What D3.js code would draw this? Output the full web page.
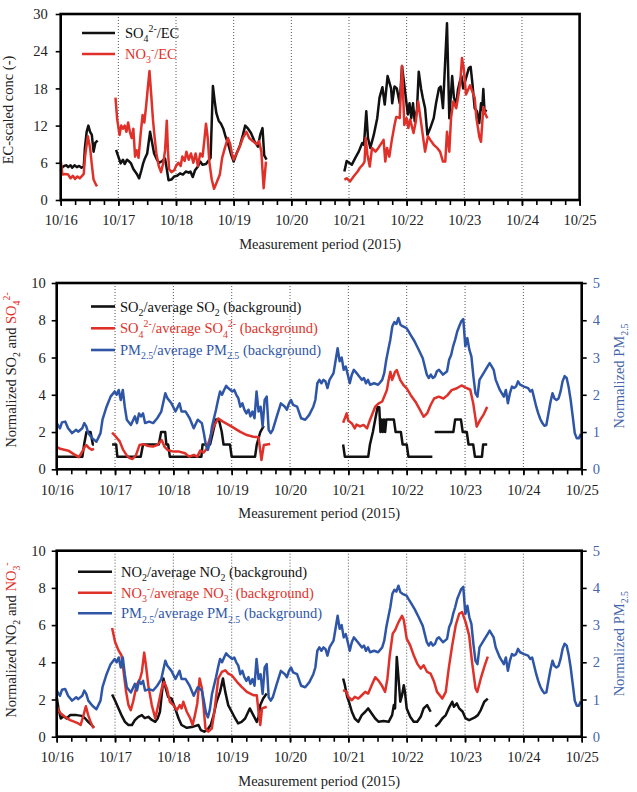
<!DOCTYPE html>
<html>
<head>
<meta charset="utf-8">
<script src="https://cdn.jsdelivr.net/npm/d3@7"></script>
<style>
  body { margin: 0; background: #fff; }
  text { font-family: "Liberation Serif", "Times New Roman", serif; }
</style>
</head>
<body>
<div id="chart"></div>
<script>
// tick labels on the time axis (day 0 = 10/16 00:00)
var dayLabels = ["10/16", "10/17", "10/18", "10/19", "10/20", "10/21", "10/22", "10/23", "10/24", "10/25"];
var ecTicks = [0, 6, 12, 18, 24, 30];
var normTicks = [0, 2, 4, 6, 8, 10];
var pmTicks = [0, 1, 2, 3, 4, 5];

// panel 1: EC-scaled ratios, [day, value], null = gap
var so4EcRatio = [
  [0,4.6],[0.03,5.3],[0.06,5.5],[0.1,5.6],[0.13,5.3],[0.17,5.6],[0.2,5.2],[0.24,5.6],[0.28,5.3],[0.32,5.5],[0.36,5.2],[0.4,5.4],[0.42,8.4],[0.45,11],[0.48,12],[0.51,11],[0.54,10.5],[0.57,7.8],[0.6,9.2],[0.64,9.6],
  null,
  [0.96,8.1],[1.0,7],[1.04,5.9],[1.08,6.5],[1.11,5.8],[1.15,6.5],[1.19,6.2],[1.22,5.9],[1.26,5],[1.29,4.6],[1.32,4.2],[1.36,3.5],[1.4,4.8],[1.43,5.9],[1.46,6.7],[1.5,7.5],[1.55,11],[1.58,9.5],[1.62,7.5],[1.67,6.5],[1.71,6],[1.76,6.3],[1.81,6.7],[1.84,5],[1.87,3.2],[1.92,3.3],[1.97,3.8],[2.02,3.9],[2.07,4.3],[2.12,4.1],[2.17,4.6],[2.22,4.4],[2.25,4.6],[2.29,3.7],[2.33,4.8],[2.38,5.4],[2.42,6.2],[2.46,5.7],[2.52,5.8],[2.6,6.8],[2.64,18.4],[2.67,16],[2.7,14],[2.74,12.8],[2.78,12.3],[2.82,11.5],[2.86,10.2],[2.9,9.2],[2.95,7.5],[3.0,6.2],[3.05,7.5],[3.11,8.8],[3.16,10.5],[3.2,12],[3.25,11.5],[3.3,10.8],[3.36,9.5],[3.42,8.6],[3.46,10.5],[3.5,11.6],[3.53,7.2],[3.57,6.5],
  null,
  [4.92,4.6],[4.96,6.3],[5.05,5.7],[5.11,6.8],[5.17,7.8],[5.23,9.2],[5.26,8.9],[5.3,14.3],[5.33,10],[5.37,8.4],[5.43,10.5],[5.49,13.2],[5.53,16.5],[5.58,18.2],[5.62,15.4],[5.67,20],[5.73,18],[5.75,15.6],[5.79,18.3],[5.83,18],[5.88,15.6],[5.92,21.6],[6.0,15.4],[6.02,13.8],[6.05,15.6],[6.08,13.2],[6.11,15.6],[6.14,12.7],[6.18,14.6],[6.21,20.7],[6.25,18],[6.28,16.5],[6.32,14.8],[6.36,10.5],[6.41,11.6],[6.47,13.2],[6.51,15.6],[6.56,18],[6.59,18.3],[6.63,14.8],[6.7,28.5],[6.74,13.2],[6.79,20],[6.82,16.5],[6.86,15.4],[6.89,17.8],[6.92,19],[6.95,20],[6.98,18],[7.08,21.3],[7.11,21.5],[7.14,18.9],[7.18,14.8],[7.22,14.3],[7.26,12.4],[7.29,15.6],[7.31,14.5],[7.33,17.9],[7.35,14.5],[7.39,14.3]
];
var no3EcRatio = [
  [0,6.4],[0.03,4.1],[0.08,4.2],[0.13,4.1],[0.17,3.5],[0.21,3.9],[0.25,3.4],[0.29,3.8],[0.33,3.5],[0.37,3.9],[0.4,4.2],[0.42,6.8],[0.47,10.3],[0.51,8.4],[0.54,5.7],[0.57,3.3],[0.61,2.5],[0.63,2.2],
  null,
  [0.95,16.5],[0.98,13],[1.02,10.5],[1.05,12],[1.08,11.5],[1.11,12],[1.14,11],[1.17,12.5],[1.2,11],[1.23,10],[1.26,11.5],[1.29,7],[1.32,8],[1.35,6.8],[1.39,11],[1.42,13.7],[1.45,12.5],[1.48,15],[1.51,18],[1.54,20.8],[1.57,17],[1.6,13],[1.63,10],[1.66,7.5],[1.7,5.5],[1.74,4.5],[1.78,6],[1.81,8],[1.84,12.8],[1.86,8],[1.88,5],[1.92,4.5],[1.97,4.8],[2.0,5.5],[2.04,6],[2.08,5.5],[2.11,7],[2.15,6.3],[2.18,7.8],[2.22,6.5],[2.26,7.5],[2.3,6],[2.34,7.5],[2.38,5.5],[2.42,7.5],[2.46,7],[2.49,9.5],[2.52,12.3],[2.55,10],[2.58,6],[2.62,3.3],[2.66,1.8],[2.7,2.7],[2.76,4.1],[2.8,6.8],[2.85,8.5],[2.9,10],[2.94,9],[2.97,7.5],[3.0,6.5],[3.05,7.5],[3.1,8.5],[3.16,10],[3.22,11],[3.27,10],[3.33,9.5],[3.4,9],[3.44,9.5],[3.48,7.8],[3.52,1.9],[3.56,6.2],
  null,
  [4.92,3.3],[4.96,3.5],[5.02,3.0],[5.08,3.8],[5.15,4.6],[5.19,5.2],[5.24,5.7],[5.27,6.2],[5.29,10],[5.32,7.3],[5.36,5.4],[5.4,8.4],[5.46,7.8],[5.51,8.4],[5.6,9.7],[5.63,6.2],[5.66,8.4],[5.7,7],[5.74,9.5],[5.79,12.1],[5.82,13.4],[5.88,13.2],[5.92,21.6],[5.96,12.1],[6.0,13.2],[6.03,11.6],[6.06,13],[6.12,10.8],[6.16,12.7],[6.2,15.9],[6.24,13.2],[6.28,10.5],[6.32,7.8],[6.37,10.3],[6.41,9.7],[6.47,8.9],[6.53,8.4],[6.58,7.8],[6.63,6.2],[6.67,6.2],[6.7,11],[6.74,7.8],[6.77,13.2],[6.81,15.9],[6.86,14.8],[6.9,17],[6.93,19],[6.96,22.9],[6.99,21.3],[7.03,17],[7.1,18.5],[7.14,17.5],[7.18,16.5],[7.21,13.2],[7.24,11.5],[7.26,10.2],[7.29,9.4],[7.33,15],[7.36,14],[7.4,13.2]
];

// panels 2 and 3: normalised to background, left axis
var so2Norm = [
  [0,0.67],[0.44,0.67],[0.47,1.33],[0.51,2.0],[0.58,2.0],[0.62,1.33],[0.64,1.33],
  null,
  [0.95,1.33],[1.02,1.33],[1.04,0.67],[1.44,0.67],[1.48,1.33],[1.75,1.33],[1.79,2.0],[1.86,2.0],[1.88,1.33],[1.91,1.33],[1.94,0.67],[2.48,0.67],[2.5,1.33],[2.63,1.33],[2.68,2.0],[2.73,2.67],[2.78,2.67],[2.83,2.0],[2.86,1.33],[2.97,1.33],[3.0,0.67],[3.4,0.67],[3.43,1.33],[3.49,2.0],[3.55,2.33],
  null,
  [4.91,1.33],[4.94,0.67],[5.34,0.67],[5.37,1.33],[5.42,2.0],[5.46,2.67],[5.5,3.33],[5.53,3.33],[5.55,2.0],[5.57,2.67],[5.59,2.0],[5.61,2.67],[5.63,2.0],[5.65,2.67],[5.78,2.67],[5.81,2.0],[5.9,2.0],[5.93,1.33],[6.0,1.33],[6.03,0.67],[6.44,0.67],
  null,
  [6.48,2.0],[6.8,2.0],[6.83,2.67],[6.93,2.67],[6.96,2.0],[7.03,2.0],[7.06,1.33],[7.14,1.33],[7.17,0.67],[7.29,0.67],[7.31,1.33],[7.38,1.33]
];
var so4Norm = [
  [0,1.2],[0.06,1.1],[0.2,1.0],[0.3,0.8],[0.38,0.65],[0.43,0.9],[0.48,1.2],[0.51,1.3],[0.55,1.15],[0.6,1.05],[0.64,1.1],
  null,
  [0.95,1.97],[1.0,1.8],[1.08,1.5],[1.14,1.04],[1.2,0.75],[1.25,0.6],[1.3,0.55],[1.36,0.77],[1.42,1.3],[1.48,1.35],[1.57,1.25],[1.65,1.22],[1.72,1.3],[1.8,1.57],[1.85,1.2],[1.9,1.04],[2.0,0.95],[2.1,0.95],[2.2,0.86],[2.27,0.68],[2.35,0.77],[2.41,0.68],[2.46,1.0],[2.52,0.9],[2.57,1.1],[2.62,1.6],[2.69,2.29],[2.77,2.73],[2.85,2.56],[3.0,2.29],[3.14,2.02],[3.26,1.84],[3.37,1.75],[3.46,1.72],[3.51,0.5],[3.55,1.3],[3.66,1.36],
  null,
  [4.91,2.5],[4.94,2.75],[4.97,3.0],[5.0,2.6],[5.06,2.46],[5.11,2.2],[5.14,2.4],[5.2,2.3],[5.26,2.38],[5.32,2.2],[5.37,2.65],[5.46,3.36],[5.52,3.54],[5.58,3.64],[5.66,4.25],[5.69,4.79],[5.72,5.23],[5.75,4.8],[5.78,5.05],[5.8,5.23],[5.83,5.32],[5.89,4.79],[5.95,4.5],[6.0,4.34],[6.07,3.98],[6.15,3.63],[6.23,3.18],[6.29,2.82],[6.35,3.0],[6.41,3.45],[6.47,3.8],[6.55,3.9],[6.63,3.8],[6.7,3.98],[6.77,4.25],[6.86,4.35],[6.94,4.5],[7.0,4.4],[7.09,4.27],[7.14,3.55],[7.2,2.29],[7.26,2.65],[7.32,2.95],[7.38,3.35]
];
var no2Norm = [
  [0,2.14],[0.03,1.52],[0.07,0.98],[0.12,1.1],[0.17,0.98],[0.23,1.16],[0.34,1.16],[0.43,1.12],[0.49,0.98],[0.54,0.8],[0.6,0.63],[0.64,0.48],
  null,
  [0.95,2.27],[1.0,1.95],[1.06,1.52],[1.11,1.16],[1.17,0.8],[1.23,0.63],[1.29,0.63],[1.34,0.89],[1.4,1.07],[1.46,1.16],[1.51,1.0],[1.57,1.07],[1.63,0.9],[1.69,0.8],[1.73,0.98],[1.77,1.34],[1.83,3.13],[1.87,2.6],[1.91,2.14],[1.97,2.05],[2.03,1.52],[2.09,0.98],[2.14,0.63],[2.23,0.48],[2.34,0.54],[2.43,0.63],[2.47,0.36],[2.53,0.27],[2.58,0.36],[2.64,0.63],[2.69,1.16],[2.74,1.88],[2.8,2.41],[2.85,3.13],[2.89,2.41],[2.94,1.7],[3.0,1.34],[3.06,0.98],[3.11,0.71],[3.17,0.8],[3.23,0.98],[3.31,1.52],[3.37,1.16],[3.43,0.8],[3.46,1.07],[3.49,1.7],[3.54,2.05],[3.6,2.32],
  null,
  [4.91,3.13],[4.94,2.77],[4.98,2.14],[5.01,1.88],[5.06,1.34],[5.11,0.98],[5.17,0.8],[5.23,1.16],[5.29,1.34],[5.34,1.52],[5.4,1.25],[5.46,0.98],[5.52,0.8],[5.6,0.84],[5.69,0.8],[5.75,1.16],[5.78,1.7],[5.8,1.52],[5.83,4.29],[5.86,3.13],[5.89,1.88],[5.92,2.23],[5.95,2.77],[5.97,2.41],[6.0,1.52],[6.06,1.07],[6.12,0.8],[6.18,0.8],[6.24,1.07],[6.29,1.52],[6.35,1.7],[6.41,1.34],
  null,
  [6.49,0.54],[6.55,0.71],[6.61,0.98],[6.67,1.16],[6.72,1.52],[6.78,1.88],[6.81,1.61],[6.86,1.79],[6.9,1.52],[6.96,1.34],[7.01,0.98],[7.07,0.89],[7.16,1.02],[7.22,1.16],[7.27,1.43],[7.33,1.88],[7.39,2.05]
];
var no3Norm = [
  [0,1.64],[0.03,1.43],[0.07,1.25],[0.14,1.07],[0.23,0.89],[0.31,0.8],[0.37,0.71],[0.41,0.63],[0.46,1.16],[0.5,1.64],[0.54,1.16],[0.58,0.8],[0.63,0.45],
  null,
  [0.95,5.84],[1.0,5.1],[1.06,4.64],[1.11,4.38],[1.14,3.66],[1.19,2.41],[1.23,1.7],[1.27,1.43],[1.31,1.88],[1.37,2.77],[1.43,3.13],[1.46,3.48],[1.5,4.52],[1.53,3.84],[1.57,2.77],[1.63,1.7],[1.69,0.98],[1.74,1.7],[1.8,2.59],[1.84,2.95],[1.89,2.59],[1.94,1.88],[2.0,1.7],[2.06,1.43],[2.11,1.7],[2.14,1.52],[2.17,1.88],[2.23,1.34],[2.29,0.98],[2.33,0.63],[2.37,1.16],[2.41,1.79],[2.45,3.13],[2.49,2.59],[2.52,1.52],[2.55,0.45],[2.6,0.27],[2.66,0.45],[2.71,1.52],[2.77,3.13],[2.83,3.48],[2.89,3.57],[2.94,3.39],[3.0,3.3],[3.09,2.95],[3.17,2.68],[3.26,2.41],[3.37,2.23],[3.43,2.23],[3.46,1.34],[3.49,0.63],[3.52,1.52],[3.6,1.61],
  null,
  [4.91,2.5],[4.97,2.41],[5.0,2.14],[5.06,1.96],[5.11,2.14],[5.17,2.05],[5.23,2.23],[5.29,2.41],[5.34,2.32],[5.4,2.77],[5.46,3.2],[5.52,3.0],[5.57,2.77],[5.63,2.41],[5.67,3.13],[5.71,4.38],[5.76,5.54],[5.8,5.72],[5.86,6.16],[5.92,6.5],[5.95,6.27],[6.0,5.27],[6.06,4.91],[6.12,4.38],[6.18,3.93],[6.24,3.66],[6.29,3.84],[6.35,3.48],[6.41,3.39],[6.47,2.95],[6.52,2.41],[6.61,2.05],[6.67,2.41],[6.72,3.66],[6.78,4.91],[6.84,5.98],[6.9,6.61],[6.95,6.7],[7.01,6.16],[7.07,5.45],[7.12,4.02],[7.18,2.59],[7.21,2.41],[7.27,3.13],[7.33,3.75],[7.39,4.3]
];
// PM2.5 normalised, right axis (0-5); same series in panels 2 and 3
var pmNorm = [
  [0,1.24],[0.056,1.1],[0.09,1.26],[0.146,1.28],[0.195,1.1],[0.264,0.97],[0.334,1.06],[0.368,1.01],[0.438,1.1],[0.473,1.24],[0.507,1.15],[0.542,0.97],[0.612,0.83],[0.681,0.74],[0.751,0.97],[0.785,1.33],[0.855,1.68],[0.924,1.95],[0.994,2.09],[1.028,2.0],[1.063,2.13],[1.098,1.86],[1.133,2.13],[1.167,1.68],[1.202,1.33],[1.272,1.19],[1.341,1.42],[1.376,1.24],[1.411,1.5],[1.445,1.42],[1.48,1.5],[1.515,1.24],[1.584,1.28],[1.654,1.24],[1.723,1.37],[1.793,1.55],[1.862,2.04],[1.897,1.91],[1.967,1.77],[2.036,1.55],[2.106,1.77],[2.14,1.55],[2.21,1.55],[2.279,1.37],[2.349,1.1],[2.418,1.33],[2.488,1.24],[2.523,0.97],[2.557,0.65],[2.592,0.52],[2.627,0.74],[2.662,1.15],[2.731,1.6],[2.766,1.86],[2.8,2.09],[2.835,2.0],[2.87,2.13],[2.905,2.24],[2.939,2.18],[3.009,2.09],[3.044,2.13],[3.079,2.0],[3.113,1.91],[3.148,1.68],[3.183,1.77],[3.217,1.6],[3.252,1.5],[3.287,1.6],[3.322,1.42],[3.356,1.55],[3.391,1.37],[3.426,2.09],[3.461,1.55],[3.495,1.68],[3.53,1.15],[3.565,1.86],[3.6,1.95],[3.634,1.06],[3.669,0.97],[3.704,1.06],[3.773,1.42],[3.843,1.77],[3.912,1.68],[3.947,1.6],[3.982,1.77],[4.017,1.86],[4.051,1.73],[4.121,1.68],[4.19,1.37],[4.26,1.33],[4.329,1.46],[4.399,1.68],[4.434,1.86],[4.468,2.31],[4.503,2.4],[4.538,2.31],[4.573,2.4],[4.607,2.36],[4.642,2.18],[4.677,2.4],[4.746,2.58],[4.816,3.25],[4.851,2.9],[4.885,3.0],[4.92,2.67],[4.955,2.76],[4.99,2.54],[5.024,2.31],[5.059,2.54],[5.094,2.67],[5.163,2.54],[5.233,2.4],[5.267,2.45],[5.302,2.31],[5.337,2.4],[5.372,2.27],[5.441,2.31],[5.511,2.27],[5.58,2.4],[5.615,2.58],[5.65,2.94],[5.684,3.21],[5.719,3.48],[5.754,3.84],[5.789,3.95],[5.823,3.9],[5.858,4.06],[5.893,3.88],[5.928,3.84],[5.997,3.79],[6.032,3.7],[6.067,3.61],[6.136,3.43],[6.206,3.21],[6.275,2.98],[6.345,2.54],[6.379,2.45],[6.414,2.54],[6.449,2.45],[6.484,2.49],[6.518,2.63],[6.553,2.67],[6.623,2.54],[6.692,2.63],[6.727,2.94],[6.762,3.07],[6.796,3.3],[6.831,3.48],[6.866,3.7],[6.901,3.84],[6.935,3.97],[6.97,4.03],[7.005,3.3],[7.04,3.52],[7.074,3.21],[7.109,3.03],[7.144,2.49],[7.179,2.04],[7.213,1.95],[7.248,2.4],[7.318,2.58],[7.387,2.76],[7.422,2.85],[7.457,2.76],[7.491,2.67],[7.526,2.4],[7.596,2.13],[7.665,1.95],[7.7,2.13],[7.735,1.77],[7.769,2.04],[7.804,2.22],[7.839,2.18],[7.874,2.22],[7.908,2.36],[7.943,2.27],[8.012,2.22],[8.082,2.18],[8.117,2.09],[8.151,2.13],[8.221,1.68],[8.255,1.5],[8.29,1.35],[8.325,1.24],[8.36,1.17],[8.394,1.19],[8.429,1.5],[8.464,1.8],[8.499,2.04],[8.533,1.9],[8.568,1.86],[8.603,1.9],[8.638,2.09],[8.672,2.36],[8.707,2.5],[8.742,2.45],[8.777,2.2],[8.811,1.86],[8.846,1.42],[8.881,0.97],[8.916,0.83],[8.95,0.83],[8.985,0.95]
];

var BLACK = "#111", RED = "#df3129", BLUE = "#2f56a6", AXISBLUE = "#4466aa";
var FS = 14.5;
var SERIF = '"Liberation Serif", "Times New Roman", serif';

var svg = d3.select("#chart").append("svg")
  .attr("width", 637)
  .attr("height", 792)
  .attr("font-family", SERIF);

// text with sub/superscripts: parts = [[text, "" | "sub" | "sup", colour]]
function richText(el, parts, size) {
  var off = 0;
  parts.forEach(function(p) {
    var target = p[1] === "sub" ? size * 0.3 : p[1] === "sup" ? -size * 0.42 : 0;
    var ts = el.append("tspan")
      .attr("dy", target - off)
      .attr("font-size", p[1] ? size * 0.68 : size)
      .text(p[0]);
    if (p[2]) ts.attr("fill", p[2]);
    off = target;
  });
  return el;
}

function styleAxis(a, colour) {
  a.attr("font-family", SERIF);
  a.select(".domain").remove();
  a.selectAll("line").attr("stroke", "#000").attr("stroke-width", 1.6);
  a.selectAll("text").attr("font-size", FS).attr("fill", colour || "#222");
}

function drawPanel(cfg) {
  var g = svg.append("g");
  var x = d3.scaleLinear().domain([0, 9]).range([cfg.left, cfg.right]);
  var y = d3.scaleLinear().domain([0, cfg.yMax]).range([cfg.bottom, cfg.top]);
  var y2 = d3.scaleLinear().domain([0, 5]).range([cfg.bottom, cfg.top]);

  // dotted day lines
  g.selectAll(".grid").data(d3.range(1, 9)).enter().append("line")
    .attr("x1", d => x(d)).attr("x2", d => x(d))
    .attr("y1", cfg.top).attr("y2", cfg.bottom)
    .attr("stroke", "#444").attr("stroke-width", 0.9)
    .attr("stroke-dasharray", "1,2");

  // series
  var line = d3.line()
    .defined(d => d !== null)
    .x(d => x(d[0]));
  cfg.series.forEach(function(s) {
    var ys = s.right ? y2 : y;
    g.append("path")
      .datum(s.data)
      .attr("fill", "none")
      .attr("stroke", s.color)
      .attr("stroke-width", 2.5)
      .attr("stroke-linejoin", "round")
      .attr("d", line.y(d => ys(d[1])));
  });

  // frame
  g.append("rect")
    .attr("x", cfg.left).attr("y", cfg.top)
    .attr("width", cfg.right - cfg.left).attr("height", cfg.bottom - cfg.top)
    .attr("fill", "none").attr("stroke", "#000").attr("stroke-width", 2.6);

  // x axis: day ticks + 6 h minor ticks
  styleAxis(g.append("g").attr("transform", `translate(0,${cfg.bottom})`)
    .call(d3.axisBottom(x).tickValues(d3.range(0, 9.01, 0.25)).tickSize(5).tickFormat("")));
  styleAxis(g.append("g").attr("transform", `translate(0,${cfg.bottom})`)
    .call(d3.axisBottom(x).tickValues(d3.range(0, 10)).tickSize(6).tickPadding(9)
      .tickFormat(d => dayLabels[d])));
  styleAxis(g.append("g").attr("transform", `translate(${cfg.left},0)`)
    .call(d3.axisLeft(y).tickValues(cfg.yTicks).tickSize(5).tickPadding(cfg.yPad)
      .tickFormat(d3.format("d"))));

  if (cfg.rightAxis) {
    styleAxis(g.append("g").attr("transform", `translate(${cfg.right},0)`)
      .call(d3.axisRight(y2).tickValues(pmTicks).tickSize(5).tickPadding(6)
        .tickFormat(d3.format("d"))), AXISBLUE);
    richText(g.append("text")
      .attr("transform", `translate(624,${(cfg.top + cfg.bottom) / 2}) rotate(-90)`)
      .attr("text-anchor", "middle").attr("fill", AXISBLUE),
      [["Normalized PM", ""], ["2.5", "sub"]], FS);
  }

  // y title
  richText(g.append("text")
    .attr("transform", `translate(${cfg.yTitleX},${cfg.yTitleY}) rotate(-90)`)
    .attr("text-anchor", "middle").attr("fill", "#222"),
    cfg.yTitle, FS);

  // x title
  g.append("text")
    .attr("x", (cfg.left + cfg.right) / 2).attr("y", cfg.bottom + 49)
    .attr("text-anchor", "middle").attr("font-size", FS).attr("fill", "#222")
    .text("Measurement period (2015)");

  // legend
  cfg.legend.forEach(function(l, i) {
    var ly = cfg.legY[i];
    g.append("line")
      .attr("x1", cfg.legX[0]).attr("x2", cfg.legX[1])
      .attr("y1", ly).attr("y2", ly)
      .attr("stroke", l.color).attr("stroke-width", 2.6);
    richText(g.append("text")
      .attr("x", cfg.legX[2]).attr("y", ly + 5)
      .attr("fill", l.color === BLACK ? "#111" : l.color),
      l.parts, FS);
  });
}

drawPanel({
  top: 14, bottom: 200, left: 60.7, right: 579.6, yMax: 30, yTicks: ecTicks, yPad: 8,
  series: [{data: so4EcRatio, color: BLACK}, {data: no3EcRatio, color: RED}],
  yTitle: [["EC-scaled conc (-)", ""]], yTitleX: 13, yTitleY: 110,
  legX: [82, 115, 125], legY: [33, 54],
  legend: [
    {color: BLACK, parts: [["SO", ""], ["4", "sub"], ["2-", "sup"], ["/EC", ""]]},
    {color: RED, parts: [["NO", ""], ["3", "sub"], ["-", "sup"], ["/EC", ""]]}
  ]
});

drawPanel({
  top: 283, bottom: 469.3, left: 56.7, right: 581.7, yMax: 10, yTicks: normTicks, yPad: 6,
  rightAxis: true,
  series: [{data: so2Norm, color: BLACK}, {data: so4Norm, color: RED}, {data: pmNorm, color: BLUE, right: true}],
  yTitle: [["Normalized SO", ""], ["2", "sub"], [" and ", ""], ["SO", "", RED], ["4", "sub", RED], ["2-", "sup", RED]],
  yTitleX: 16, yTitleY: 370,
  legX: [91, 115, 120], legY: [306.5, 328.3, 350],
  legend: [
    {color: BLACK, parts: [["SO", ""], ["2", "sub"], ["/average SO", ""], ["2", "sub"], [" (background)", ""]]},
    {color: RED, parts: [["SO", ""], ["4", "sub"], ["2-", "sup"], ["/average SO", ""], ["4", "sub"], ["2-", "sup"], [" (background)", ""]]},
    {color: BLUE, parts: [["PM", ""], ["2.5", "sub"], ["/average PM", ""], ["2.5", "sub"], [" (background)", ""]]}
  ]
});

drawPanel({
  top: 550.7, bottom: 736.7, left: 56.7, right: 581.7, yMax: 10, yTicks: normTicks, yPad: 6,
  rightAxis: true,
  series: [{data: no2Norm, color: BLACK}, {data: no3Norm, color: RED}, {data: pmNorm, color: BLUE, right: true}],
  yTitle: [["Normalized NO", ""], ["2", "sub"], [" and ", ""], ["NO", "", RED], ["3", "sub", RED], ["-", "sup", RED]],
  yTitleX: 16, yTitleY: 640,
  legX: [78, 112, 121], legY: [571.7, 592.7, 613.3],
  legend: [
    {color: BLACK, parts: [["NO", ""], ["2", "sub"], ["/average NO", ""], ["2", "sub"], [" (background)", ""]]},
    {color: RED, parts: [["NO", ""], ["3", "sub"], ["-", "sup"], ["/average NO", ""], ["3", "sub"], ["-", "sup"], [" (background)", ""]]},
    {color: BLUE, parts: [["PM", ""], ["2.5", "sub"], ["/average PM", ""], ["2.5", "sub"], [" (background)", ""]]}
  ]
});
</script>
</body>
</html>
